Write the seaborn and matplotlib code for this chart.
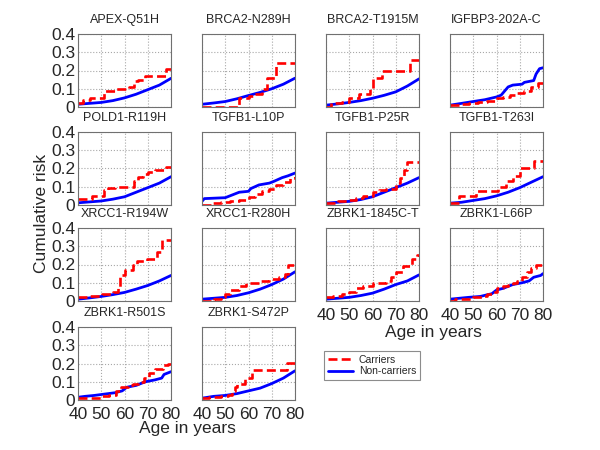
import matplotlib
matplotlib.use("Agg")
import matplotlib.pyplot as plt
from matplotlib.lines import Line2D
from matplotlib.ticker import FuncFormatter
import seaborn as sns

sns.set_style("white")
plt.rcParams['font.family'] = ['Liberation Sans', 'DejaVu Sans']

# ---------------- data ----------------
titles = ["APEX-Q51H", "BRCA2-N289H", "BRCA2-T1915M", "IGFBP3-202A-C",
          "POLD1-R119H", "TGFB1-L10P", "TGFB1-P25R", "TGFB1-T263I",
          "XRCC1-R194W", "XRCC1-R280H", "ZBRK1-1845C-T", "ZBRK1-L66P",
          "ZBRK1-R501S", "ZBRK1-S472P"]

grid5 = [40, 45, 50, 55, 60, 65, 70, 75, 80]

apex_car_age = [40, 42, 45, 51, 56, 62, 64, 66, 69, 78, 80]
apex_car_risk = [0.02, 0.04, 0.05, 0.09, 0.10, 0.11, 0.14, 0.15, 0.17, 0.21, 0.21]
apex_non_risk = [0.015, 0.02, 0.025, 0.035, 0.05, 0.07, 0.095, 0.12, 0.157]

n289_car_age = [40, 56, 60, 62, 66, 68, 72, 80]
n289_car_risk = [0.0, 0.05, 0.06, 0.07, 0.10, 0.16, 0.24, 0.24]
n289_non_risk = [0.015, 0.022, 0.03, 0.045, 0.063, 0.08, 0.10, 0.125, 0.158]

t1915_car_age = [40, 42, 47, 50, 54, 59, 60, 64, 76, 80]
t1915_car_risk = [0.0, 0.02, 0.03, 0.05, 0.07, 0.10, 0.16, 0.20, 0.26, 0.26]
t1915_non_risk = [0.01, 0.017, 0.025, 0.035, 0.048, 0.064, 0.083, 0.115, 0.154]

igf_car_age = [40, 44, 48, 52, 56, 60, 63, 66, 69, 72, 75, 78, 80]
igf_car_risk = [0.01, 0.015, 0.02, 0.03, 0.035, 0.05, 0.055, 0.065, 0.075, 0.09, 0.11, 0.13, 0.145]
igf_non_age = [40, 45, 50, 55, 60, 62, 63, 65, 67, 71, 72, 74, 76, 77, 78.5, 80]
igf_non_risk = [0.01, 0.02, 0.03, 0.04, 0.055, 0.065, 0.08, 0.11, 0.12, 0.125, 0.135, 0.14, 0.145, 0.18, 0.21, 0.215]

pold_car_age = [40, 46, 51, 53, 56, 64, 66, 68, 70, 73, 78, 80]
pold_car_risk = [0.035, 0.05, 0.08, 0.095, 0.10, 0.13, 0.155, 0.17, 0.18, 0.19, 0.21, 0.21]
pold_non_risk = [0.012, 0.017, 0.022, 0.032, 0.045, 0.07, 0.095, 0.12, 0.155]

l10p_car_age = [40, 44, 48, 52, 56, 60, 63, 66, 69, 72, 75, 78, 80]
l10p_car_risk = [0.0, 0.01, 0.015, 0.02, 0.03, 0.045, 0.06, 0.075, 0.09, 0.11, 0.125, 0.15, 0.155]
l10p_non_age = [40, 41, 50, 52, 56, 60, 61, 64.5, 69, 71, 74.5, 77, 79, 80]
l10p_non_risk = [0.02, 0.035, 0.04, 0.05, 0.07, 0.075, 0.09, 0.11, 0.12, 0.13, 0.15, 0.16, 0.17, 0.175]

p25r_car_age = [40, 45, 50, 53, 56, 60, 63, 66, 70, 72, 73.5, 75, 80]
p25r_car_risk = [0.01, 0.02, 0.03, 0.04, 0.05, 0.07, 0.08, 0.09, 0.12, 0.15, 0.19, 0.235, 0.235]
p25r_non_risk = [0.01, 0.015, 0.02, 0.03, 0.045, 0.07, 0.095, 0.12, 0.15]

t263_car_age = [40, 44, 51, 60.5, 64, 67, 70, 76, 80]
t263_car_risk = [0.01, 0.05, 0.075, 0.10, 0.13, 0.16, 0.20, 0.24, 0.24]
t263_non_risk = [0.01, 0.015, 0.025, 0.035, 0.05, 0.07, 0.095, 0.125, 0.155]

r194_car_age = [40, 45, 50.5, 55, 57, 58, 60, 63.5, 65.5, 69.5, 74, 76, 80]
r194_car_risk = [0.02, 0.03, 0.04, 0.05, 0.07, 0.14, 0.17, 0.20, 0.22, 0.23, 0.27, 0.335, 0.335]
r194_non_risk = [0.01, 0.017, 0.025, 0.035, 0.047, 0.065, 0.085, 0.11, 0.14]

r280_car_age = [40, 45, 48, 50, 52, 56, 59, 64.5, 69, 73, 75.5, 77, 80]
r280_car_risk = [0.0, 0.01, 0.02, 0.04, 0.06, 0.08, 0.10, 0.11, 0.12, 0.13, 0.15, 0.195, 0.195]
r280_non_risk = [0.01, 0.015, 0.02, 0.03, 0.045, 0.065, 0.09, 0.12, 0.16]

c1845_car_age = [40, 43, 47, 50, 53, 56, 60, 66, 68, 70, 73, 77, 79, 80]
c1845_car_risk = [0.02, 0.03, 0.04, 0.05, 0.07, 0.08, 0.10, 0.11, 0.13, 0.16, 0.19, 0.23, 0.25, 0.25]
c1845_non_risk = [0.01, 0.015, 0.02, 0.03, 0.043, 0.065, 0.09, 0.11, 0.143]

l66p_car_age = [40, 42, 50, 54, 56, 58, 60, 63, 65, 67, 69, 71, 73, 75, 77, 80]
l66p_car_risk = [0.0, 0.01, 0.02, 0.03, 0.04, 0.05, 0.07, 0.08, 0.09, 0.10, 0.11, 0.13, 0.16, 0.18, 0.195, 0.20]
l66p_non_age = [40, 48, 53, 58, 60, 63, 67, 71, 74, 76, 79, 80]
l66p_non_risk = [0.01, 0.02, 0.025, 0.04, 0.06, 0.07, 0.09, 0.10, 0.11, 0.13, 0.14, 0.15]

r501_car_age = [40, 50, 53.5, 56.5, 58.5, 61.5, 63.5, 66, 68.5, 70.5, 73, 76.5, 78.5, 80]
r501_car_risk = [0.01, 0.02, 0.03, 0.05, 0.07, 0.08, 0.09, 0.10, 0.12, 0.15, 0.17, 0.19, 0.20, 0.20]
r501_non_age = [40, 43, 47, 50, 56, 59, 61, 65, 69, 73, 76, 77, 80]
r501_non_risk = [0.015, 0.02, 0.025, 0.03, 0.04, 0.05, 0.07, 0.08, 0.10, 0.11, 0.12, 0.14, 0.155]

s472_car_age = [40, 43, 48, 51, 53, 54, 55, 58.5, 61.5, 76.5, 80]
s472_car_risk = [0.01, 0.015, 0.02, 0.03, 0.05, 0.07, 0.09, 0.12, 0.165, 0.205, 0.205]
s472_non_risk = [0.01, 0.02, 0.025, 0.035, 0.05, 0.065, 0.09, 0.12, 0.16]

x_ticks = [40, 50, 60, 70, 80]
y_ticks = [0, 0.1, 0.2, 0.3, 0.4]
legend_labels = ["Carriers", "Non-carriers"]
x_label = "Age in years"
y_label = "Cumulative risk"

panels = [
    (apex_car_age, apex_car_risk, grid5, apex_non_risk),
    (n289_car_age, n289_car_risk, grid5, n289_non_risk),
    (t1915_car_age, t1915_car_risk, grid5, t1915_non_risk),
    (igf_car_age, igf_car_risk, igf_non_age, igf_non_risk),
    (pold_car_age, pold_car_risk, grid5, pold_non_risk),
    (l10p_car_age, l10p_car_risk, l10p_non_age, l10p_non_risk),
    (p25r_car_age, p25r_car_risk, grid5, p25r_non_risk),
    (t263_car_age, t263_car_risk, grid5, t263_non_risk),
    (r194_car_age, r194_car_risk, grid5, r194_non_risk),
    (r280_car_age, r280_car_risk, grid5, r280_non_risk),
    (c1845_car_age, c1845_car_risk, grid5, c1845_non_risk),
    (l66p_car_age, l66p_car_risk, l66p_non_age, l66p_non_risk),
    (r501_car_age, r501_car_risk, r501_non_age, r501_non_risk),
    (s472_car_age, s472_car_risk, grid5, s472_non_risk),
]

# ---------------- layout ----------------
W, H = 600, 450
lefts = [78, 202, 326, 450]
tops = [34, 132, 228, 327]
pw, ph = 93, 73

RED = "#ff0000"
BLUE = "#0000ff"
SPINE = "#707070"

fig = plt.figure(figsize=(6, 4.5), dpi=100)

yfmt = FuncFormatter(lambda v, p: "0" if abs(v) < 1e-9 else f"{v:.1f}")

for i, (ca, cr, na, nr) in enumerate(panels):
    row, col = divmod(i, 4)
    ax = fig.add_axes([lefts[col] / W, 1 - (tops[row] + ph) / H, pw / W, ph / H])
    sns.lineplot(x=na, y=nr, ax=ax, color=BLUE, linewidth=2.0,
                 estimator=None, sort=False)
    sns.lineplot(x=ca, y=cr, ax=ax, color=RED, linewidth=1.9,
                 linestyle=(0, (3.4, 1.6)), drawstyle="steps-post",
                 estimator=None, sort=False)
    ax.set_xlim(40, 80)
    ax.set_ylim(0, 0.4)
    ax.set_xticks(x_ticks)
    ax.set_yticks(y_ticks)
    ax.yaxis.set_major_formatter(yfmt)
    ax.grid(True, color="#a8a8a8", linestyle=":", linewidth=0.8)
    ax.set_axisbelow(True)
    for s in ax.spines.values():
        s.set_color(SPINE)
        s.set_linewidth(0.8)
    ax.tick_params(direction="in", length=2, width=0.6, color=SPINE,
                   labelsize=12.5)
    ax.tick_params(axis="y", pad=2)
    ax.tick_params(axis="x", pad=5)
    ax.set_xlabel("")
    ax.set_ylabel("")
    ax.set_title(titles[i], fontsize=9, pad=8)
    if col != 0:
        ax.tick_params(labelleft=False)
    show_x = (row == 3) or (row == 2 and col >= 2)
    if not show_x:
        ax.tick_params(labelbottom=False)
    if ax.get_legend() is not None:
        ax.get_legend().remove()

fig.text(42 / W, 1 - 213 / H, y_label, rotation=90, ha="center", va="center",
         fontsize=12.5)
fig.text(187 / W, 1 - 429 / H, x_label, ha="center", va="center", fontsize=12.5)
fig.text(433 / W, 1 - 332 / H, x_label, ha="center", va="center", fontsize=12.5)

handles = [Line2D([], [], color=RED, lw=1.9, linestyle=(0, (3.4, 1.6))),
           Line2D([], [], color=BLUE, lw=2.0)]
leg = fig.legend(handles, legend_labels, loc="upper left",
                 bbox_to_anchor=(324 / W, 1 - 351 / H), fontsize=7.5,
                 frameon=True, fancybox=False, edgecolor=SPINE,
                 handlelength=2.4, borderpad=0.35, labelspacing=0.15,
                 handletextpad=0.6, borderaxespad=0)
leg.get_frame().set_linewidth(0.8)

fig.savefig("out.png", dpi=100)
